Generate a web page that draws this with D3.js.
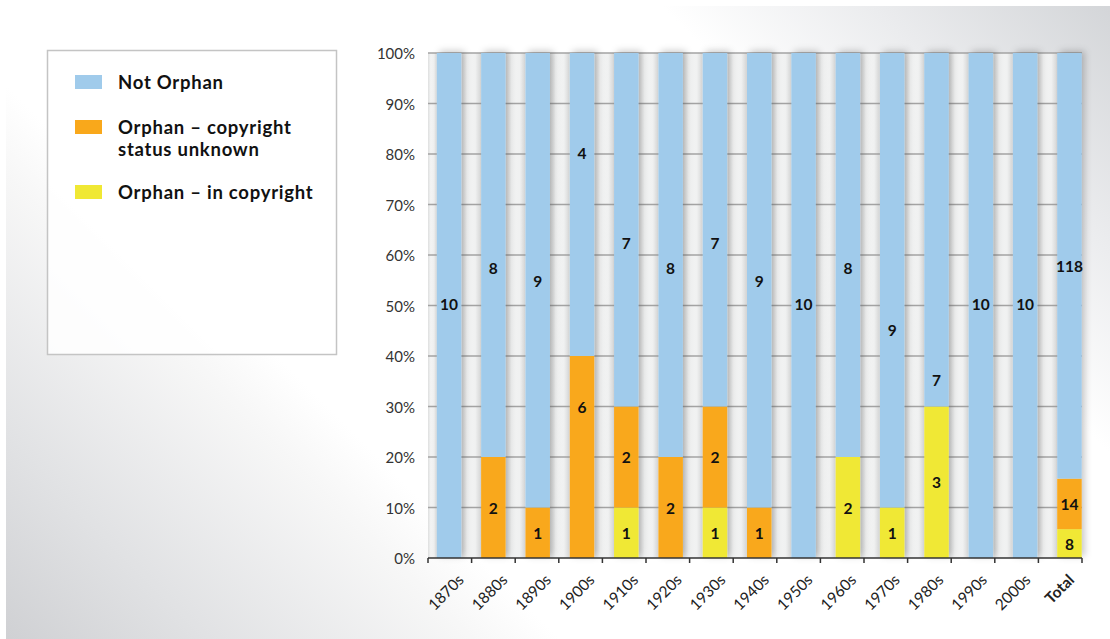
<!DOCTYPE html>
<html><head><meta charset="utf-8">
<script src="https://cdn.jsdelivr.net/npm/d3@7/dist/d3.min.js"></script>
<style>body{margin:0;background:#fff}svg{display:block}</style>
</head><body><svg id="c" width="1110" height="639"></svg>
<script>
const categories = ["1870s","1880s","1890s","1900s","1910s","1920s","1930s","1940s","1950s","1960s","1970s","1980s","1990s","2000s","Total"];
// segment sizes as drawn
const notOrphan = [10,8,9,6,7,8,7,9,10,8,9,7,10,10,118];
const orphanUnknown = [0,2,1,4,2,2,2,1,0,0,0,0,0,0,14];
const orphanInCopyright = [0,0,0,0,1,0,1,0,0,2,1,3,0,0,8];
// numbers printed on the segments (the 1900s column is labelled 4 / 6 in the original)
const notOrphanText = [10,8,9,4,7,8,7,9,10,8,9,7,10,10,118];
const unknownText = [0,2,1,6,2,2,2,1,0,0,0,0,0,0,14];
// label anchors (share of column, %) as placed in the original
const notOrphanLabelAt = [50.3,57.4,54.9,80.2,62.4,57.4,62.4,54.9,50.3,57.4,45.1,35.2,50.3,50.3,57.8];
const unknownLabelAt = [null,10,5,30,20,10,20,5,null,null,null,null,null,null,null];
const yTicks = [0,10,20,30,40,50,60,70,80,90,100];
const seriesNames = ["Not Orphan","Orphan – copyright status unknown","Orphan – in copyright"];
const colors = ["#a0cbeb","#f9a81b","#f0e834"];

const svg = d3.select("#c");
const defs = svg.append("defs");
const bg = defs.append("linearGradient").attr("id","bg").attr("gradientUnits","userSpaceOnUse")
  .attr("x1",0).attr("y1",639).attr("x2",874.6).attr("y2",-235.6);
[[0,"#cfd0d3"],[0.12,"#e1e2e4"],[0.27,"#f7f7f7"],[0.32,"#ffffff"],[0.74,"#ffffff"],[0.86,"#ebecee"],[1,"#d3d5d8"]]
  .forEach(s=>bg.append("stop").attr("offset",s[0]).attr("stop-color",s[1]));
const gap = defs.append("linearGradient").attr("id","gap");
[[0,"#dedfdf"],[0.3,"#f2f3f3"],[0.7,"#f0f1f1"],[1,"#d9dada"]]
  .forEach(s=>gap.append("stop").attr("offset",s[0]).attr("stop-color",s[1]));
const f = defs.append("filter").attr("id","sh").attr("x","-50%").attr("y","-10%").attr("width","200%").attr("height","120%");
f.append("feDropShadow").attr("dx",3).attr("dy",-2).attr("stdDeviation",3.5).attr("flood-color","#000").attr("flood-opacity",0.22);

svg.append("rect").attr("x",6).attr("y",6).attr("width",1104).attr("height",633).attr("fill","url(#bg)");

const axisX = d3.scaleBand().domain(categories).range([428,1082]);
const barX = d3.scaleBand().domain(categories).range([426.9,1091.6]).paddingInner(0.447).paddingOuter(0.2235);
const y = d3.scaleLinear().domain([0,100]).range([558,53]);

const data = categories.map((c,i)=>{
  const t = notOrphan[i]+orphanUnknown[i]+orphanInCopyright[i];
  return {c, t, vals:[orphanInCopyright[i],orphanUnknown[i],notOrphan[i]]};
});

// gaps between bars
const plot = svg.append("g");
categories.forEach((c,i)=>{
  const x0 = i===0 ? 428 : barX(categories[i-1])+barX.bandwidth();
  const x1 = barX(c);
  plot.append("rect").attr("x",x0).attr("y",y(100)).attr("width",x1-x0).attr("height",y(0)-y(100)).attr("fill","url(#gap)");
});
// gridlines
plot.selectAll("line.g").data(yTicks.filter(d=>d>0)).join("line")
  .attr("x1",428).attr("x2",1082).attr("y1",d=>y(d)).attr("y2",d=>y(d))
  .attr("stroke","#a3a3a3").attr("stroke-width",1.6);

// stacked bars: order bottom -> top: in copyright, unknown, not orphan
const stackColors = [colors[2],colors[1],colors[0]];
const bars = svg.append("g").attr("filter","url(#sh)");
data.forEach(d=>{
  let cum = 0;
  d.vals.forEach((v,k)=>{
    const p0 = cum/d.t*100, p1 = (cum+v)/d.t*100;
    cum += v;
    if (v>0) bars.append("rect").attr("x",barX(d.c)).attr("width",barX.bandwidth())
      .attr("y",y(p1)).attr("height",y(p0)-y(p1)).attr("fill",stackColors[k]);
  });
});

// labels
const lab = svg.append("g").attr("font-family","Lato, 'Open Sans', sans-serif").attr("font-weight","bold")
  .attr("font-size",15.5).attr("fill","#111").attr("text-anchor","middle").attr("dominant-baseline","central");
data.forEach((d,i)=>{
  const cx = barX(d.c)+barX.bandwidth()/2;
  const yc = orphanInCopyright[i]/d.t*100;
  const uc = (orphanInCopyright[i]+orphanUnknown[i])/d.t*100;
  if (orphanInCopyright[i]>0) lab.append("text").attr("x",cx).attr("y",y(yc/2)).text(orphanInCopyright[i]);
  if (unknownText[i]>0) {
    const at = unknownLabelAt[i]!=null ? unknownLabelAt[i] : (yc+uc)/2;
    lab.append("text").attr("x",cx).attr("y",y(at)).text(unknownText[i]);
  }
  lab.append("text").attr("x",cx).attr("y",y(notOrphanLabelAt[i])).text(notOrphanText[i]);
});

// y axis labels
svg.append("g").selectAll("text").data(yTicks).join("text")
  .attr("x",415).attr("y",d=>y(d)).attr("dominant-baseline","central").attr("text-anchor","end")
  .attr("font-family","Lato, 'Open Sans', sans-serif").attr("font-size",15).attr("fill","#333")
  .text(d=>d+"%");

// x axis
const xa = svg.append("g").attr("transform","translate(0,558)");
xa.append("line").attr("x1",428).attr("x2",1082).attr("stroke","#333").attr("stroke-width",1.5);
xa.selectAll("line.t").data(categories.map(c=>axisX(c)).concat([1082])).join("line")
  .attr("x1",d=>d).attr("x2",d=>d).attr("y1",0).attr("y2",5).attr("stroke","#333").attr("stroke-width",1.5);
xa.selectAll("text").data(categories).join("text")
  .attr("transform",c=>`translate(${axisX(c)+axisX.bandwidth()/2+15},23) rotate(-45)`)
  .attr("text-anchor","end").attr("font-family","Lato, 'Open Sans', sans-serif").attr("font-size",15.5)
  .attr("fill","#222").attr("font-weight",c=>c==="Total"?"bold":"normal").text(c=>c);

// legend
const lg = svg.append("g");
lg.append("rect").attr("x",47.5).attr("y",50.5).attr("width",289).attr("height",304)
  .attr("fill","#fff").attr("fill-opacity",0.85).attr("stroke","#c4c4c4").attr("stroke-width",1.5);
const legRows = [[seriesNames[0]],["Orphan – copyright","status unknown"],["Orphan – in copyright"]];
const legY = [75,120,185];
legRows.forEach((lines,i)=>{
  lg.append("rect").attr("x",75).attr("y",legY[i]).attr("width",27).attr("height",14).attr("fill",colors[i]);
  lines.forEach((l,j)=>lg.append("text").attr("x",118).attr("y",legY[i]+13.5+j*22)
    .attr("font-family","Lato, 'Open Sans', sans-serif").attr("font-weight","bold")
    .attr("font-size",18.5).attr("letter-spacing",0.75).attr("fill","#111").text(l));
});
</script></body></html>
